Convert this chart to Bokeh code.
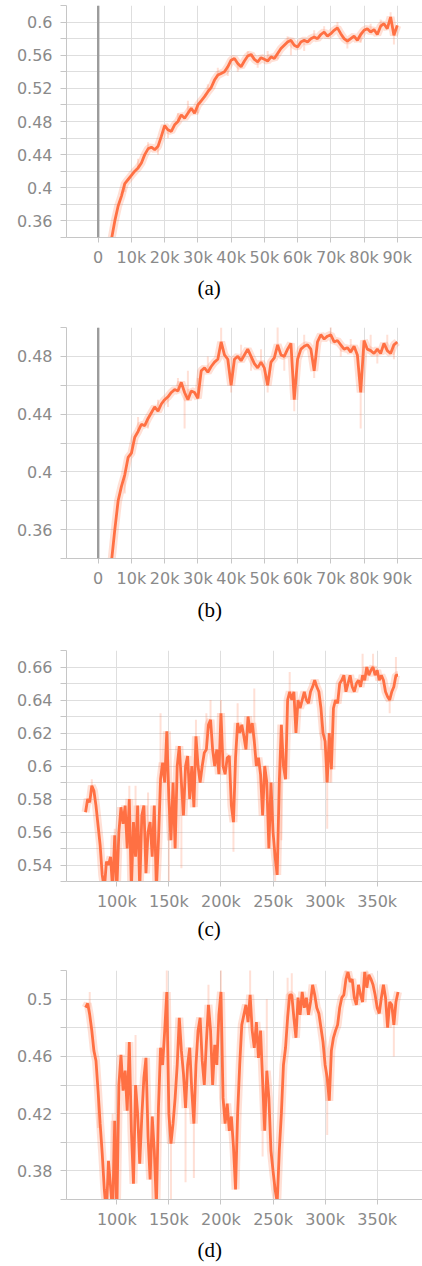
import numpy as np
from bokeh.plotting import figure
from bokeh.layouts import column
from bokeh.models import FixedTicker, CustomJSTickFormatter, Span, Title
from bokeh.embed import file_html
from bokeh.resources import INLINE

# ---------------- data ----------------
# (a) and (b): training steps 4k .. 90k every 1k
STEPS_AB = list(range(4000, 91000, 1000))
VALS_A = [0.338, 0.36, 0.378, 0.39, 0.405, 0.41, 0.415, 0.42, 0.424, 0.43,
          0.44, 0.447, 0.449, 0.446, 0.45, 0.462, 0.475, 0.47, 0.468, 0.476,
          0.48, 0.488, 0.484, 0.49, 0.496, 0.49, 0.5, 0.505, 0.51, 0.516,
          0.521, 0.53, 0.536, 0.538, 0.54, 0.546, 0.554, 0.556, 0.55, 0.546,
          0.553, 0.559, 0.561, 0.555, 0.552, 0.557, 0.555, 0.553, 0.558, 0.556,
          0.562, 0.568, 0.572, 0.576, 0.578, 0.572, 0.57, 0.576, 0.578, 0.576,
          0.58, 0.582, 0.58, 0.585, 0.588, 0.583, 0.586, 0.59, 0.593, 0.586,
          0.58, 0.577, 0.58, 0.583, 0.578, 0.585, 0.59, 0.592, 0.588, 0.591,
          0.585, 0.595, 0.598, 0.592, 0.606, 0.584, 0.596]
VALS_B = [0.338, 0.36, 0.38, 0.39, 0.398, 0.41, 0.413, 0.424, 0.428, 0.433,
          0.432, 0.437, 0.441, 0.445, 0.442, 0.447, 0.45, 0.452, 0.455, 0.457,
          0.456, 0.462, 0.455, 0.45, 0.456, 0.455, 0.451, 0.47, 0.472, 0.469,
          0.473, 0.476, 0.478, 0.49, 0.481, 0.478, 0.46, 0.478, 0.48, 0.477,
          0.481, 0.485, 0.48, 0.475, 0.472, 0.476, 0.472, 0.46, 0.476, 0.479,
          0.488, 0.481, 0.48, 0.485, 0.489, 0.45, 0.478, 0.485, 0.487, 0.488,
          0.485, 0.47, 0.49, 0.495, 0.492, 0.494, 0.495, 0.49, 0.491, 0.488,
          0.485, 0.486, 0.483, 0.487, 0.481, 0.455, 0.491, 0.485, 0.484, 0.482,
          0.485, 0.482, 0.489, 0.484, 0.482, 0.488, 0.49]

# (c) and (d): training steps 70k .. 370k every 2k
STEPS_CD = list(range(70000, 372000, 2000))
VALS_C = [0.572, 0.58, 0.578, 0.588, 0.585, 0.576, 0.564, 0.552, 0.534, 0.525,
          0.542, 0.54, 0.545, 0.525, 0.558, 0.525, 0.56, 0.575, 0.565, 0.576,
          0.55, 0.58, 0.525, 0.566, 0.545, 0.576, 0.525, 0.57, 0.576, 0.535,
          0.56, 0.566, 0.545, 0.576, 0.525, 0.555, 0.592, 0.602, 0.59, 0.621,
          0.58, 0.555, 0.59, 0.55, 0.6, 0.612, 0.59, 0.57, 0.6, 0.606,
          0.58, 0.6, 0.575, 0.618, 0.6, 0.59, 0.6, 0.608, 0.61, 0.625,
          0.628, 0.61, 0.6, 0.61, 0.595, 0.632, 0.6, 0.595, 0.605, 0.606,
          0.576, 0.566, 0.605, 0.626, 0.62, 0.625, 0.618, 0.61, 0.63, 0.62,
          0.626, 0.615, 0.6, 0.605, 0.595, 0.57, 0.6, 0.59, 0.55, 0.59,
          0.56, 0.545, 0.534, 0.59, 0.625, 0.6, 0.592, 0.64, 0.645, 0.64,
          0.645, 0.62, 0.64, 0.635, 0.64, 0.645, 0.64, 0.638, 0.645, 0.648,
          0.652, 0.648, 0.645, 0.635, 0.62, 0.615, 0.59, 0.62, 0.598, 0.635,
          0.64, 0.638, 0.65, 0.652, 0.655, 0.645, 0.65, 0.655, 0.648, 0.645,
          0.65, 0.652, 0.648, 0.655, 0.652, 0.66, 0.655, 0.658, 0.66, 0.655,
          0.658, 0.652, 0.655, 0.652, 0.645, 0.642, 0.64, 0.645, 0.648, 0.655,
          0.655]
VALS_D = [0.494, 0.497, 0.489, 0.478, 0.464, 0.457, 0.436, 0.413, 0.392, 0.367,
          0.35, 0.387, 0.369, 0.35, 0.415, 0.35, 0.44, 0.461, 0.436, 0.45,
          0.422, 0.47, 0.408, 0.371, 0.44, 0.42, 0.385, 0.418, 0.445, 0.459,
          0.404, 0.374, 0.418, 0.394, 0.355, 0.424, 0.466, 0.454, 0.478, 0.505,
          0.42, 0.399, 0.413, 0.431, 0.454, 0.487, 0.464, 0.448, 0.424, 0.454,
          0.466, 0.436, 0.413, 0.454, 0.478, 0.487, 0.457, 0.44, 0.47, 0.496,
          0.478, 0.44, 0.468, 0.454, 0.489, 0.505, 0.431, 0.413, 0.427, 0.408,
          0.418, 0.397, 0.367, 0.42, 0.454, 0.482, 0.489, 0.496, 0.484, 0.503,
          0.478, 0.466, 0.484, 0.459, 0.478, 0.443, 0.408, 0.45, 0.431, 0.394,
          0.38, 0.367, 0.358, 0.394, 0.42, 0.454, 0.466, 0.487, 0.503, 0.503,
          0.487, 0.473, 0.501, 0.489, 0.505, 0.494, 0.501, 0.489, 0.498, 0.51,
          0.503, 0.494, 0.49, 0.48, 0.47, 0.454, 0.445, 0.429, 0.464, 0.473,
          0.478, 0.482, 0.494, 0.501, 0.503, 0.514, 0.519, 0.512, 0.514, 0.501,
          0.496, 0.51, 0.503, 0.498, 0.519, 0.508, 0.517, 0.514, 0.51, 0.503,
          0.494, 0.49, 0.501, 0.51, 0.501, 0.48, 0.498, 0.496, 0.482, 0.498,
          0.505]

# faint raw excursions (unsmoothed values that stick out of the curve)
RAW_X_A = [8000, 12000, 15000, 18000, 21000, 24000, 27000, 30000, 33000, 36000,
           39000, 42000, 45000, 48000, 51000, 54000, 57000, 58000, 62000, 65000,
           68000, 72000, 75000, 79000, 82000, 85000, 88000, 89000]
RAW_Y_A = [0.395, 0.435, 0.455, 0.44, 0.46, 0.49, 0.505, 0.49, 0.525, 0.545,
           0.535, 0.54, 0.565, 0.545, 0.565, 0.555, 0.583, 0.56, 0.565, 0.59,
           0.595, 0.6, 0.568, 0.575, 0.598, 0.603, 0.612, 0.573]
RAW_X_B = [8000, 12000, 15000, 18000, 21000, 24000, 26000, 27000, 30000, 33000,
           37000, 40000, 43000, 46000, 49000, 51000, 54000, 56000, 59000, 62000,
           65000, 70000, 73000, 76000, 79000, 82000, 84000, 87000, 89000]
RAW_Y_B = [0.385, 0.438, 0.43, 0.45, 0.445, 0.465, 0.43, 0.47, 0.465, 0.48,
           0.5, 0.455, 0.488, 0.47, 0.485, 0.455, 0.502, 0.47, 0.442, 0.495,
           0.465, 0.502, 0.48, 0.492, 0.43, 0.495, 0.475, 0.495, 0.478]
RAW_X_C = [76000, 98000, 112000, 118000, 130000, 142000, 150000, 162000, 176000,
           186000, 190000, 200000, 212000, 216000, 232000, 252000, 258000, 266000,
           296000, 302000, 306000, 336000, 346000, 362000, 368000]
RAW_Y_C = [0.592, 0.562, 0.588, 0.588, 0.584, 0.632, 0.53, 0.538, 0.628,
           0.632, 0.64, 0.64, 0.548, 0.638, 0.647, 0.53, 0.555, 0.657,
           0.61, 0.562, 0.59, 0.668, 0.668, 0.632, 0.666]
RAW_X_D = [74000, 82000, 96000, 118000, 134000, 148000, 152000, 166000, 174000, 188000,
           200000, 228000, 240000, 244000, 264000, 268000, 302000, 320000, 340000, 366000]
RAW_Y_D = [0.505, 0.41, 0.42, 0.475, 0.36, 0.522, 0.36, 0.372, 0.375, 0.51,
           0.522, 0.522, 0.39, 0.5, 0.515, 0.518, 0.405, 0.522, 0.522, 0.46]

X_TICKS_AB = [0, 10000, 20000, 30000, 40000, 50000, 60000, 70000, 80000, 90000]
X_TICKS_CD = [100000, 150000, 200000, 250000, 300000, 350000]
Y_TICKS_A = [0.36, 0.4, 0.44, 0.48, 0.52, 0.56, 0.6]
Y_MINOR_A = [0.34, 0.38, 0.42, 0.46, 0.5, 0.54, 0.58, 0.62]
Y_TICKS_B = [0.36, 0.4, 0.44, 0.48]
Y_MINOR_B = [0.34, 0.38, 0.42, 0.46, 0.5]
Y_TICKS_C = [0.54, 0.56, 0.58, 0.6, 0.62, 0.64, 0.66]
Y_MINOR_C = [0.53, 0.55, 0.57, 0.59, 0.61, 0.63, 0.65, 0.67]
Y_TICKS_D = [0.38, 0.42, 0.46, 0.5]
Y_MINOR_D = [0.36, 0.4, 0.44, 0.48, 0.52]
CAPTIONS = ["(a)", "(b)", "(c)", "(d)"]

# ---------------- styling ----------------
LINE = "#ff7043"
GRID = "#dedede"
AXIS = "#c6c6c6"
TICK_TXT = "#8a8a8a"
FONT = "DejaVu Sans"
W = 422
LEFT = 66


def panel(steps, vals, rx, ry, xr, yr, xt, yt, ym, cap, height, top, frame_h, cap_standoff, zero):
    p = figure(width=W, height=height, x_range=xr, y_range=yr,
               output_backend="svg", toolbar_location=None,
               min_border_left=LEFT, min_border_right=0,
               min_border_top=top, min_border_bottom=height - top - frame_h)
    p.outline_line_color = None
    p.background_fill_color = "white"

    p.xaxis.ticker = FixedTicker(ticks=xt)
    p.yaxis.ticker = FixedTicker(ticks=yt, minor_ticks=ym)
    p.xaxis.formatter = CustomJSTickFormatter(
        code="return tick == 0 ? '0' : (tick/1000).toFixed(0) + 'k';")
    p.yaxis.formatter = CustomJSTickFormatter(
        code="return String(Number(tick.toFixed(2)));")

    for ax in (p.xaxis[0], p.yaxis[0]):
        ax.axis_line_color = AXIS
        ax.axis_line_width = 1
        ax.major_tick_line_color = AXIS
        ax.minor_tick_line_color = AXIS
        ax.major_tick_in = 0
        ax.minor_tick_in = 0
        ax.major_label_text_color = TICK_TXT
        ax.major_label_text_font = FONT
        ax.major_label_text_font_size = "16px"
    p.xaxis.major_tick_out = 5
    p.xaxis.minor_tick_out = 0
    p.xaxis.major_label_standoff = 5
    p.yaxis.major_tick_out = 6
    p.yaxis.minor_tick_out = 6
    p.yaxis.major_label_standoff = 8

    p.xgrid.grid_line_color = GRID
    p.ygrid.grid_line_color = GRID
    p.ygrid.minor_grid_line_color = GRID

    if zero:
        p.add_layout(Span(location=0, dimension="height",
                          line_color="#9c9c9c", line_width=2.4))

    # faint raw excursions
    base = np.interp(rx, steps, vals)
    p.segment(x0=rx, y0=base, x1=rx, y1=ry, line_color=LINE,
              line_alpha=0.22, line_width=2)
    # halo of the raw signal and the smoothed curve
    p.line(steps, vals, line_color=LINE, line_alpha=0.22, line_width=8)
    p.line(steps, vals, line_color=LINE, line_width=2.8)

    p.add_layout(Title(text=cap, align="left", offset=131,
                       text_font="Liberation Serif", text_font_size="21px",
                       text_font_style="normal", text_color="black",
                       standoff=cap_standoff), "below")
    return p


pa = panel(STEPS_AB, VALS_A, RAW_X_A, RAW_Y_A, (-9540, 97600), (0.34, 0.62),
           X_TICKS_AB, Y_TICKS_A, Y_MINOR_A, CAPTIONS[0], 318, 5, 232, 9, True)
pb = panel(STEPS_AB, VALS_B, RAW_X_B, RAW_Y_B, (-9540, 97600), (0.34, 0.50),
           X_TICKS_AB, Y_TICKS_B, Y_MINOR_B, CAPTIONS[1], 322, 9, 231, 10, True)
pc = panel(STEPS_CD, VALS_C, RAW_X_C, RAW_Y_C, (51700, 393500), (0.53, 0.67),
           X_TICKS_CD, Y_TICKS_C, Y_MINOR_C, CAPTIONS[2], 319, 10, 231, 3, False)
pd = panel(STEPS_CD, VALS_D, RAW_X_D, RAW_Y_D, (51700, 393500), (0.36, 0.52),
           X_TICKS_CD, Y_TICKS_D, Y_MINOR_D, CAPTIONS[3], 307, 11, 232, 9, False)

layout = column(pa, pb, pc, pd, spacing=0)
open("out.html", "w").write(file_html(layout, INLINE))
